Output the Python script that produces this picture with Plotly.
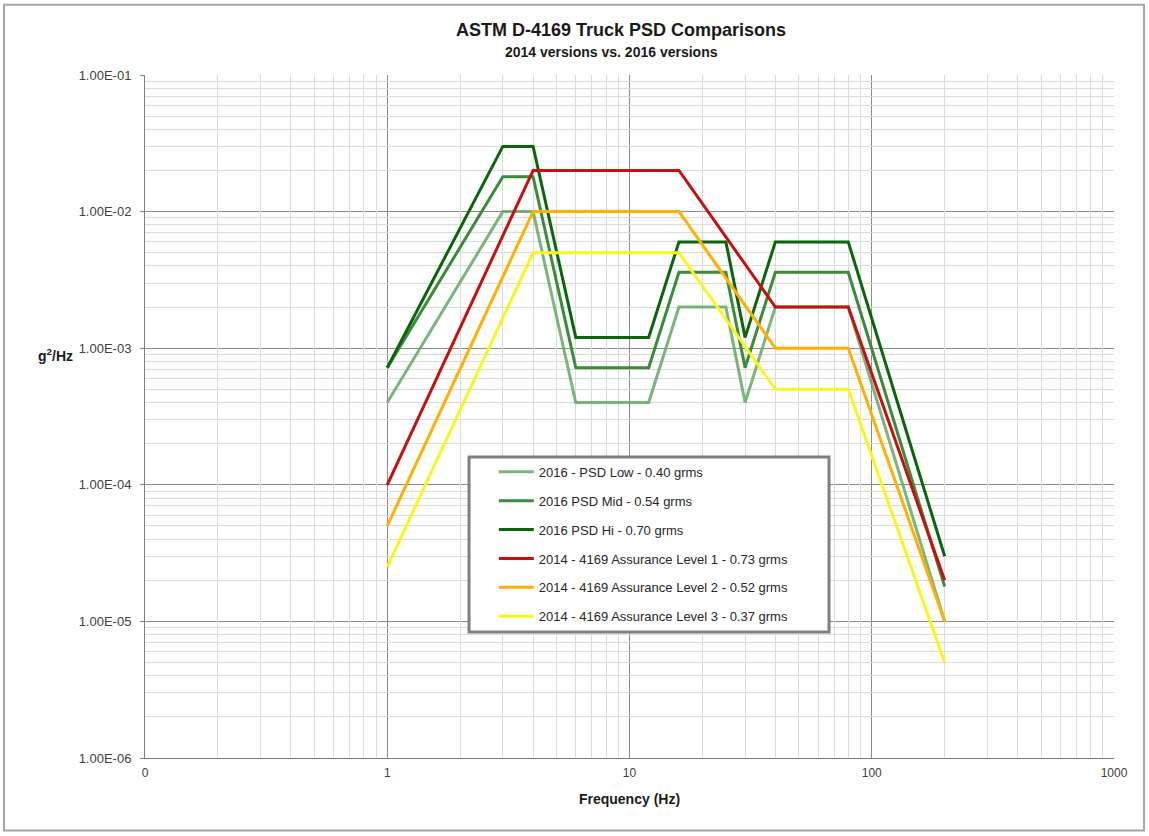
import plotly.graph_objects as go

# ASTM D-4169 truck PSD breakpoints (frequency in Hz, PSD in g^2/Hz)
freq_2016 = [1, 3, 4, 6, 12, 16, 25, 30, 40, 80, 200]
psd_2016_low = [0.0004, 0.01, 0.01, 0.0004, 0.0004, 0.002, 0.002, 0.0004, 0.002, 0.002, 0.00001]
psd_2016_mid = [0.00072, 0.018, 0.018, 0.00072, 0.00072, 0.0036, 0.0036, 0.00072, 0.0036, 0.0036, 0.000018]
psd_2016_hi = [0.00072, 0.03, 0.03, 0.0012, 0.0012, 0.006, 0.006, 0.0012, 0.006, 0.006, 0.00003]

freq_2014 = [1, 4, 16, 40, 80, 200]
psd_2014_l1 = [0.0001, 0.02, 0.02, 0.002, 0.002, 0.00002]
psd_2014_l2 = [0.00005, 0.01, 0.01, 0.001, 0.001, 0.00001]
psd_2014_l3 = [0.000025, 0.005, 0.005, 0.0005, 0.0005, 0.000005]

series_names = [
    "2016 - PSD Low - 0.40 grms",
    "2016 PSD Mid - 0.54 grms",
    "2016 PSD Hi - 0.70 grms",
    "2014 - 4169 Assurance Level 1 - 0.73 grms",
    "2014 - 4169 Assurance Level 2 - 0.52 grms",
    "2014 - 4169 Assurance Level 3 - 0.37 grms",
]

x_tickvals = [0.1, 1, 10, 100, 1000]
x_ticktext = ["0", "1", "10", "100", "1000"]
y_tickvals = [1e-6, 1e-5, 1e-4, 1e-3, 1e-2, 1e-1]
y_ticktext = ["1.00E-06", "1.00E-05", "1.00E-04", "1.00E-03", "1.00E-02", "1.00E-01"]

series = [
    (freq_2016, psd_2016_low, "rgba(100,168,100,0.85)"),
    (freq_2016, psd_2016_mid, "#3a8c3a"),
    (freq_2016, psd_2016_hi, "#0b650b"),
    (freq_2014, psd_2014_l1, "#c41010"),
    (freq_2014, psd_2014_l2, "#ffb000"),
    (freq_2014, psd_2014_l3, "#fbf51a"),
]

def minor_log(lo, hi):
    vals = []
    for e in range(lo, hi):
        for m in range(2, 10):
            vals.append(m * 10 ** e)
    return vals

FONT = "Liberation Sans, Arial"
grid_major = "#8a8a8a"
grid_minor = "#dadada"

fig = go.Figure()
# invisible carrier on the overlay axes so the minor grid gets drawn
fig.add_trace(go.Scatter(x=[1], y=[1e-3], xaxis="x2", yaxis="y2", mode="markers",
                         marker=dict(opacity=0), showlegend=False, hoverinfo="skip"))
for i, ((fx, fy, color), name) in enumerate(zip(series, series_names)):
    fig.add_trace(go.Scatter(
        x=fx, y=fy, mode="lines", name=name,
        line=dict(color=color, width=3),
        legendgroup=f"g{i}",
    ))

fig.update_layout(
    xaxis=dict(
        type="log", range=[-1, 3],
        tickmode="array", tickvals=x_tickvals, ticktext=x_ticktext,
        showgrid=True, gridcolor=grid_major, gridwidth=1,
        showline=True, linecolor="#7f7f7f", linewidth=1,
        ticks="", zeroline=False, ticklabelstandoff=4,
        tickfont=dict(family=FONT, size=12, color="#404040"),
        title=dict(text="<b>Frequency (Hz)</b>",
                   font=dict(family=FONT, size=14, color="#1a1a1a"), standoff=14),
    ),
    yaxis=dict(
        type="log", range=[-6, -1],
        tickmode="array", tickvals=y_tickvals, ticktext=y_ticktext,
        showgrid=True, gridcolor=grid_major, gridwidth=1,
        showline=True, linecolor="#7f7f7f", linewidth=1,
        ticks="outside", ticklen=4, tickcolor="#7f7f7f",
        zeroline=False, ticklabelstandoff=6,
        tickfont=dict(family=FONT, size=13, color="#404040"),
    ),
    xaxis2=dict(
        type="log", range=[-1, 3], overlaying="x", side="bottom",
        tickmode="array", tickvals=minor_log(-1, 3), showticklabels=False,
        showgrid=True, gridcolor=grid_minor, gridwidth=1, ticks="",
        showline=False, zeroline=False, layer="below traces",
    ),
    yaxis2=dict(
        type="log", range=[-6, -1], overlaying="y", side="left",
        tickmode="array", tickvals=minor_log(-6, -1), showticklabels=False,
        showgrid=True, gridcolor=grid_minor, gridwidth=1, ticks="",
        showline=False, zeroline=False, layer="below traces",
    ),
)

paper = "paper"
fig.add_shape(type="rect", xref=paper, yref=paper,
              x0=-0.1455, x1=1.031, y0=-0.106, y1=1.103,
              line=dict(color="#a6a6a6", width=2), fillcolor="rgba(0,0,0,0)", layer="below")
fig.add_shape(type="rect", xref=paper, yref=paper,
              x0=0.3344, x1=0.7059, y0=0.1845, y1=0.4407,
              line=dict(color="#7f7f7f", width=3), fillcolor="white", layer="above")

fig.add_annotation(text="<b>ASTM D-4169 Truck PSD Comparisons</b>", xref=paper, yref=paper,
                   x=0.491, y=1.066, xanchor="center", yanchor="middle", showarrow=False,
                   font=dict(family=FONT, size=18, color="#1a1a1a"))
fig.add_annotation(text="<b>2014 versions vs. 2016 versions</b>", xref=paper, yref=paper,
                   x=0.481, y=1.034, xanchor="center", yanchor="middle", showarrow=False,
                   font=dict(family=FONT, size=14, color="#1a1a1a"))
fig.add_annotation(text="<b>g<sup>2</sup>/Hz</b>", xref=paper, yref=paper,
                   x=-0.092, y=0.59, xanchor="center", yanchor="middle", showarrow=False,
                   font=dict(family=FONT, size=14, color="#1a1a1a"))

fig.update_layout(
    width=1149, height=836,
    margin=dict(l=145, r=35, t=75, b=78),
    paper_bgcolor="white", plot_bgcolor="white",
    showlegend=True,
    legend=dict(
        x=0.36, y=0.441, xanchor="left", yanchor="top",
        bgcolor="rgba(0,0,0,0)", borderwidth=0,
        font=dict(family=FONT, size=13, color="#262626"),
        tracegroupgap=9, itemwidth=35,
    ),
)

fig.write_html("out.html")
